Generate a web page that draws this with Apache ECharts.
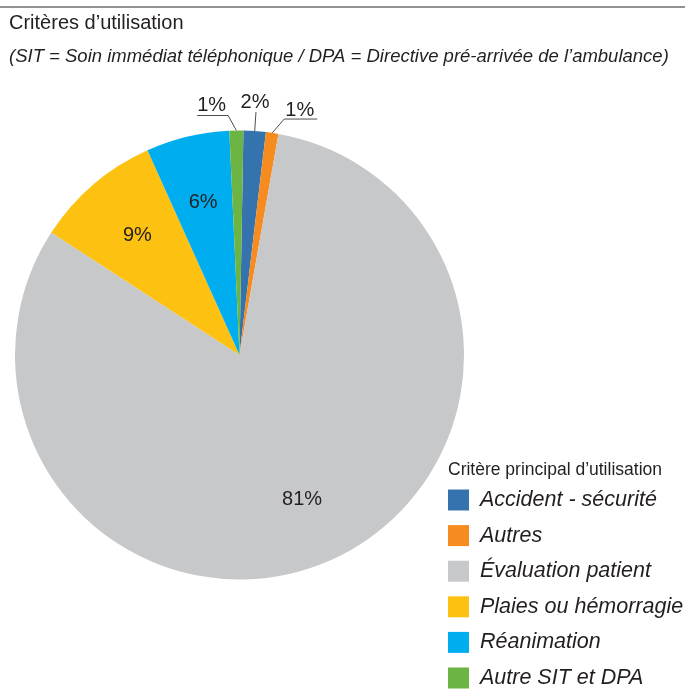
<!DOCTYPE html>
<html>
<head>
<meta charset="utf-8">
<title>Critères d’utilisation</title>
<script src="https://cdn.jsdelivr.net/npm/echarts@6/dist/echarts.min.js"></script>
<style>
  html, body { margin: 0; padding: 0; background: #fff; }
  #chart { width: 685px; height: 698px; }
</style>
</head>
<body>
<div id="chart"></div>
<script>
const categories = ['Accident - sécurité', 'Autres', 'Évaluation patient', 'Plaies ou hémorragie', 'Réanimation', 'Autre SIT et DPA'];
const shares = [1.6, 0.9, 81.4, 9.1, 6.0, 1.0];
const colors = ['#3473ae', '#f68b1f', '#c7c8ca', '#fdc112', '#00aeef', '#6cb545'];
// thin slices are labelled outside with a leader line, the others inside
const labelOutside = [true, true, false, false, false, true];

const font = "'Liberation Sans', Arial, sans-serif";
const ink = '#231f20';

// leader line tweaks for the outside labels (text sits on top of the line, excel style)
// bend: sideways shift of the elbow, align: where the text hangs on the line
const leader = {
  0: { length: 19, length2: 0, bend: 0, align: 'center', dx: -1, dy: -10 },
  1: { length: 14, length2: 43, bend: 10, align: 'left', dx: 1, dy: -9 },
  5: { length: 15, length2: 39, bend: -8, align: 'left', dx: 0, dy: -10 }
};

const pct = p => Math.round(p.value) + '%';

const chart = echarts.init(document.getElementById('chart'));

const mainData = categories.map((name, i) => {
  const item = { name: name, value: shares[i], itemStyle: { color: colors[i] } };
  if (labelOutside[i]) {
    item.label = { show: true };
    item.labelLine = { show: true, length: leader[i].length, length2: leader[i].length2 };
  } else {
    item.label = { show: false };
    item.labelLine = { show: false };
  }
  return item;
});

// transparent copy of the pie, only there to push the inside labels outward
const overlayData = categories.map((name, i) => ({
  name: name,
  value: shares[i],
  itemStyle: { color: 'rgba(0,0,0,0)' },
  label: { show: !labelOutside[i] }
}));

function placeOutside(params) {
  const l = leader[params.dataIndex];
  const pts = params.labelLinePoints;
  if (!l || !pts) return {};
  const p0 = pts[0];
  const p1 = [pts[1][0] + l.bend, pts[1][1]];
  const p2 = pts[2];
  let x;
  if (l.align === 'center') x = p1[0] + l.dx;
  else x = Math.min(p1[0], p2[0]) + l.dx;
  return {
    x: x,
    y: p1[1] + l.dy,
    align: l.align,
    verticalAlign: 'middle',
    labelLinePoints: [p0, p1, p2]
  };
}

chart.setOption({
  backgroundColor: '#fff',
  animation: false,
  title: [
    {
      text: 'Critères d’utilisation',
      left: 9, top: 13, padding: 0,
      textStyle: { fontSize: 20, fontWeight: 'normal', color: ink, fontFamily: font }
    },
    {
      text: '(SIT = Soin immédiat téléphonique / DPA = Directive pré-arrivée de l’ambulance)',
      left: 9, top: 47, padding: 0,
      textStyle: { fontSize: 18.5, fontWeight: 'normal', fontStyle: 'italic', color: ink, fontFamily: font }
    },
    {
      text: 'Critère principal d’utilisation',
      left: 448, top: 461, padding: 0,
      textStyle: { fontSize: 17.5, fontWeight: 'normal', color: ink, fontFamily: font }
    }
  ],
  graphic: [
    {
      type: 'line',
      shape: { x1: 0, y1: 7, x2: 685, y2: 7 },
      style: { stroke: '#6d6e70', lineWidth: 1.5 }
    }
  ],
  legend: {
    orient: 'vertical',
    left: 448,
    top: 489,
    padding: 0,
    itemWidth: 21,
    itemHeight: 21,
    itemGap: 13.6,
    icon: 'rect',
    selectedMode: false,
    data: categories,
    textStyle: { fontSize: 21.5, fontStyle: 'italic', color: ink, fontFamily: font, padding: [0, 0, 0, 6] }
  },
  series: [
    {
      type: 'pie',
      center: [239.5, 355],
      radius: 224.5,
      startAngle: 89,
      clockwise: true,
      avoidLabelOverlap: false,
      silent: true,
      label: { position: 'outside', color: ink, fontSize: 20, fontFamily: font, formatter: pct },
      labelLine: { lineStyle: { color: '#4d4d4d', width: 1 } },
      labelLayout: placeOutside,
      emphasis: { disabled: true },
      data: mainData
    },
    {
      type: 'pie',
      center: [239.5, 355],
      radius: [83.5, 224.5],
      startAngle: 89,
      clockwise: true,
      silent: true,
      legendHoverLink: false,
      label: { position: 'inside', color: ink, fontSize: 20, fontFamily: font, formatter: pct },
      labelLine: { show: false },
      emphasis: { disabled: true },
      data: overlayData
    }
  ]
});
</script>
</body>
</html>
